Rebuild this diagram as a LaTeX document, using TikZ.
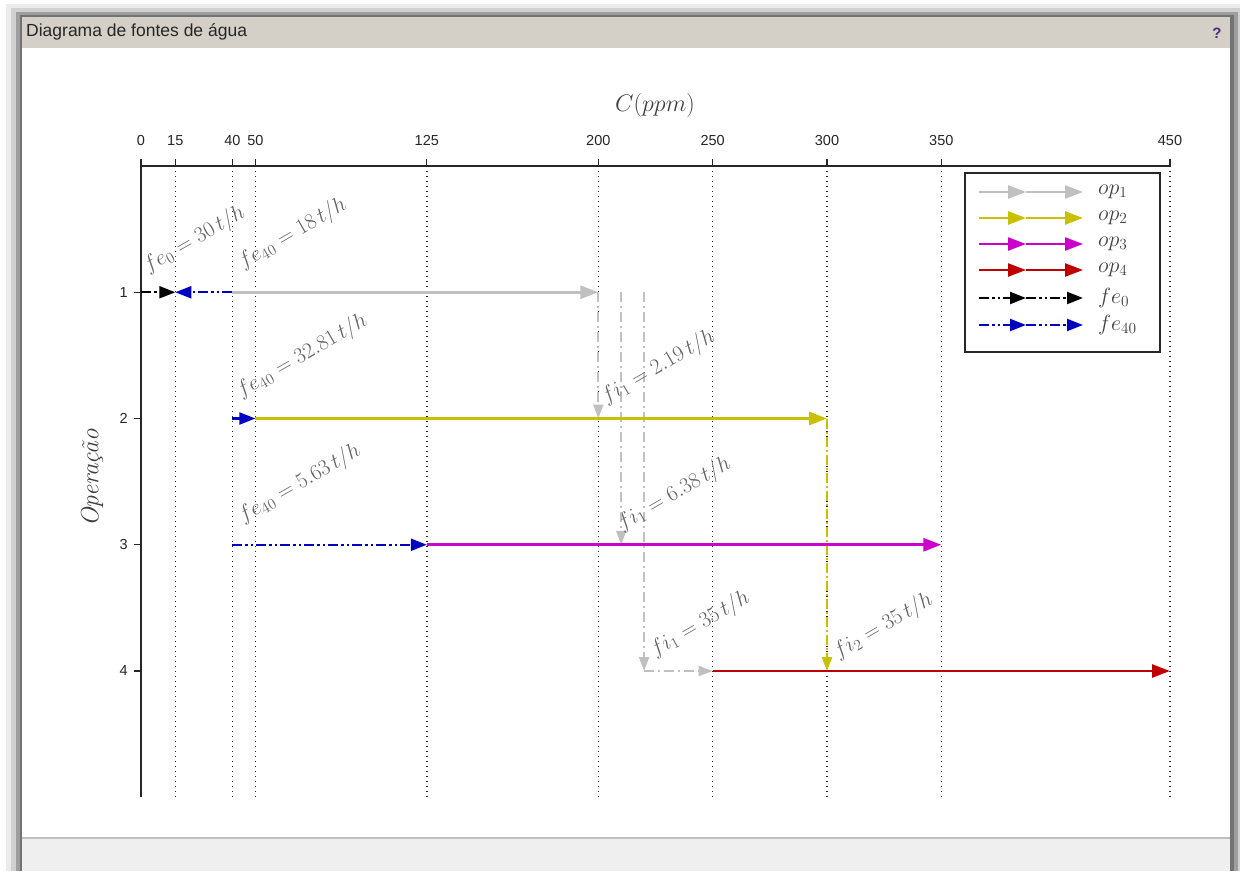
\documentclass[tikz,border=0pt]{standalone}
\usepackage{fix-cm}
\usepackage{fontspec}
\newfontfamily\uisans{Liberation Sans}
\usetikzlibrary{arrows.meta}
\definecolor{opone}{RGB}{192,192,192}
\definecolor{optwo}{RGB}{200,192,0}
\definecolor{opthree}{RGB}{204,0,204}
\definecolor{opfour}{RGB}{192,0,0}
\definecolor{feblue}{RGB}{0,0,192}
\definecolor{titlebar}{RGB}{212,208,200}
\definecolor{panel}{RGB}{239,239,239}
\definecolor{lblgray}{RGB}{100,100,100}
\definecolor{qmark}{RGB}{75,45,127}
\tikzset{
 optip/.style={-{Triangle[length=18pt,width=13pt]}},
 oparrow/.style={optip, line width=2.8pt},
 fearrow/.style={-{Triangle[length=16pt,width=12pt]}, line width=2.2pt, dash pattern=on 10pt off 3pt on 2.5pt off 3pt on 2.5pt off 3pt},
 fiarrow/.style={-{Triangle[length=14pt,width=10pt]}, line width=2pt, opone, dash pattern=on 10pt off 4pt on 2pt off 4pt},
 gridline/.style={line width=1.4pt, dash pattern=on 1.4pt off 3.6pt, black!85},
 lbl/.style={text=lblgray, font=\fontsize{22}{26}\selectfont, rotate=30, anchor=base west, inner sep=0pt},
 ticklbl/.style={font=\uisans\fontsize{14.5}{16}\selectfont, inner sep=0pt, text=black!85},
 leglbl/.style={font=\fontsize{22}{26}\selectfont, anchor=west, inner sep=0pt, text=black!75},
}
\begin{document}
\begin{tikzpicture}[x=1pt,y=-1pt]
\useasboundingbox (0,0) rectangle (1240,871);
% window chrome
\fill[white] (0,0) rectangle (1240,871);
\fill[black!8] (6,4) rectangle (1240,871);
\fill[black!18] (11,8) rectangle (1240,871);
\fill[black!38] (16,12) rectangle (1238,871);
\fill[black!55] (20,15) rectangle (1234,871);
\fill[white] (22,17) rectangle (1230,871);
\fill[titlebar] (22,17) rectangle (1230,48);
\fill[panel] (22,838) rectangle (1230,871);
\draw[black!25, line width=1.5pt] (22,838) -- (1230,838);
\node[anchor=west, font=\uisans\fontsize{17.5}{19}\selectfont, text=black!85, inner sep=0pt] (title) at (26,32) {Diagrama de fontes de água};
\node[font=\uisans\bfseries\fontsize{15}{17}\selectfont, text=qmark, inner sep=0pt] (help) at (1217,33) {?};
% plot
\begin{scope}[shift={(141pt,-166pt)}, x=2.28667pt, y=-126.25pt]
 \foreach \v in {15,40,50,125,200,250,300,350,450}
   \draw[gridline] (\v,0) -- (\v,5);
 \draw[line width=1.3pt, black!85] (0,5) -- (0,0) -- (450,0);
 \foreach \v in {0,15,40,50,125,200,250,300,350,450} {
   \draw[line width=1.3pt, black!85] (\v,0) -- ++(0pt,7pt);
   \node[ticklbl] (tx\v) at ([yshift=25pt]\v,0) {\v};
 }
 \foreach \r in {1,2,3,4} {
   \draw[line width=1.3pt, black!85] (0,\r) -- ++(-7pt,0pt);
   \node[ticklbl, anchor=east] (ty\r) at ([xshift=-13pt]0,\r) {\r};
 }
 \coordinate (a0) at (0,1);
 \coordinate (a15) at (15,1);
 \coordinate (a40) at (40,1);
 \coordinate (a200) at (200,1);
 \coordinate (a210) at (210,1);
 \coordinate (a220) at (220,1);
 \coordinate (b40) at (40,2);
 \coordinate (b50) at (50,2);
 \coordinate (b200) at (200,2);
 \coordinate (b300) at (300,2);
 \coordinate (c40) at (40,3);
 \coordinate (c125) at (125,3);
 \coordinate (c210) at (210,3);
 \coordinate (c350) at (350,3);
 \coordinate (d220) at (220,4);
 \coordinate (d250) at (250,4);
 \coordinate (d300) at (300,4);
 \coordinate (d450) at (450,4);
\end{scope}
% vertical transfers
\draw[fiarrow] (a200) -- (b200);
\draw[fiarrow] (a210) -- (c210);
\draw[fiarrow] (a220) -- (d220);
\draw[fiarrow] (d220) -- (d250);
\draw[optwo, line width=2.2pt, dash pattern=on 10pt off 3pt on 2pt off 3pt, -{Triangle[length=14pt,width=10pt]}] (b300) -- (d300);
% operations and fresh water
\draw[oparrow, opone] (a40) -- (a200);
\draw[fearrow, black] (a0) -- (a15);
\draw[fearrow, feblue] (a40) -- (a15);
\draw[fearrow, feblue] (b40) -- (b50);
\draw[oparrow, optwo] (b50) -- (b300);
\draw[fearrow, feblue] (c40) -- (c125);
\draw[oparrow, opthree] (c125) -- (c350);
\draw[oparrow, opfour] (d250) -- (d450);
% axis titles
\node[font=\fontsize{24}{28}\selectfont, text=black!75] (xlab) at (655,105) {$C(ppm)$};
\node[font=\fontsize{25}{29}\selectfont\itshape, text=black!75, rotate=90] (ylab) at (92,478) {Operação};
% flow labels
\node[lbl] (l1) at (148,273) {$fe_{0} = 30\,t/h$};
\node[lbl] (l2) at (243,269) {$fe_{40} = 18\,t/h$};
\node[lbl] (l3) at (241,398) {$fe_{40} = 32.81\,t/h$};
\node[lbl] (l4) at (243,523) {$fe_{40} = 5.63\,t/h$};
\node[lbl] (l5) at (606,404) {$fi_{1} = 2.19\,t/h$};
\node[lbl] (l6) at (622,531) {$fi_{1} = 6.38\,t/h$};
\node[lbl] (l7) at (655,657) {$fi_{1} = 35\,t/h$};
\node[lbl] (l8) at (838,659) {$fi_{2} = 35\,t/h$};
% legend
\draw[line width=1.3pt, black!85, fill=white] (965,173) rectangle (1160,352);
\foreach \c/\yy/\t in {opone/192/op_1, optwo/218/op_2, opthree/244/op_3, opfour/270/op_4} {
  \coordinate (s\c) at (979,\yy);
  \coordinate (m\c) at (1026,\yy);
  \coordinate (e\c) at (1083,\yy);
  \draw[oparrow, \c, line width=2.4pt] (s\c) -- (m\c);
  \draw[oparrow, \c, line width=2.4pt] (m\c) -- (e\c);
  \node[leglbl] (t\c) at (1098,\yy) {$\t$};
}
\foreach \c/\yy/\t in {black/298/fe_0, feblue/325/fe_{40}} {
  \coordinate (s\c) at (979,\yy);
  \coordinate (m\c) at (1026,\yy);
  \coordinate (e\c) at (1083,\yy);
  \draw[fearrow, \c] (s\c) -- (m\c);
  \draw[fearrow, \c] (m\c) -- (e\c);
  \node[leglbl] (t\c) at (1098,\yy) {$\t$};
}
\end{tikzpicture}
\end{document}
